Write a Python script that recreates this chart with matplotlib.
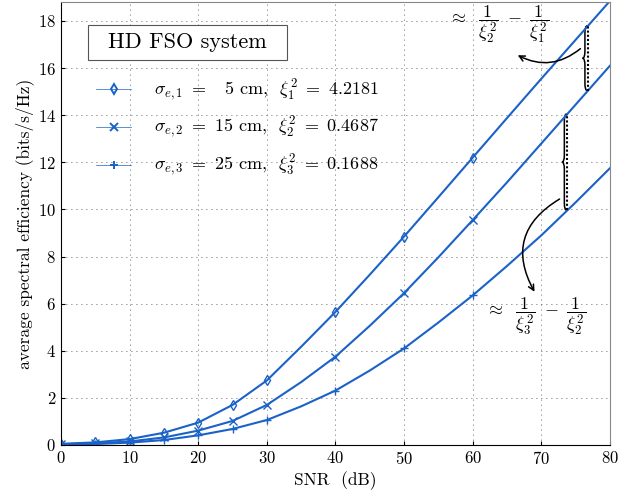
import numpy as np
import matplotlib
matplotlib.use('Agg')
import matplotlib.pyplot as plt
from matplotlib.path import Path
from matplotlib.patches import PathPatch, Rectangle

plt.rcParams['font.family'] = 'cmr10'
plt.rcParams['mathtext.fontset'] = 'cm'
plt.rcParams['axes.formatter.use_mathtext'] = True

# SNR grid (dB) and values
snr = [0, 5, 10, 15, 20, 25, 30, 35, 40, 45, 50, 55, 60, 65, 70, 75, 80]
marker_snr = [0, 5, 10, 15, 20, 25, 30, 40, 50, 60]
se_1 = [0.05, 0.11, 0.25, 0.52, 0.95, 1.70, 2.74, 4.17, 5.65, 7.23, 8.85, 10.52, 12.20, 13.88, 15.55, 17.20, 18.85]
se_2 = [0.03, 0.07, 0.15, 0.32, 0.61, 1.02, 1.70, 2.67, 3.75, 5.06, 6.45, 7.97, 9.55, 11.15, 12.80, 14.45, 16.10]
se_3 = [0.02, 0.04, 0.10, 0.21, 0.41, 0.68, 1.06, 1.64, 2.31, 3.16, 4.10, 5.20, 6.35, 7.60, 8.90, 10.30, 11.75]
labels = [r'$\sigma_{e,1}\ =\ \ \ 5$ cm,  $\xi_1^2\ =\ 4.2181$',
          r'$\sigma_{e,2}\ =\ 15$ cm,  $\xi_2^2\ =\ 0.4687$',
          r'$\sigma_{e,3}\ =\ 25$ cm,  $\xi_3^2\ =\ 0.1688$']
markers = ['d', 'x', '+']

color = '#1a62c8'
mark_idx = [i for i, s in enumerate(snr) if s in marker_snr]


def brace(ax, x0, yb, yt, h=0.35, r=0.3):
    ym = (yb + yt) / 2
    verts = [(x0, yb), (x0 - h, yb), (x0 - h, yb + r),
             (x0 - h, ym - r),
             (x0 - h, ym), (x0 - 2 * h, ym),
             (x0 - h, ym), (x0 - h, ym + r),
             (x0 - h, yt - r),
             (x0 - h, yt), (x0, yt)]
    codes = [Path.MOVETO, Path.CURVE3, Path.CURVE3, Path.LINETO,
             Path.CURVE3, Path.CURVE3, Path.CURVE3, Path.CURVE3,
             Path.LINETO, Path.CURVE3, Path.CURVE3]
    ax.add_patch(PathPatch(Path(verts, codes), fill=False, lw=1.1, color='k'))


fig = plt.figure(figsize=(6.26, 5.01), dpi=100)
ax = fig.add_axes([0.0974, 0.1118, 0.877, 0.884])

for y, m, lab in zip([se_1, se_2, se_3], markers, labels):
    ax.plot(snr, y, color=color, lw=1.5, marker=m, markevery=mark_idx,
            markersize=5.5, markerfacecolor='none', markeredgewidth=1.0, label=lab)

ax.set_xlim(0, 80)
ax.set_ylim(0, 18.8)
ax.set_xticks(range(0, 81, 10))
ax.set_yticks(range(0, 19, 2))
ax.grid(True, color='#333333', ls=(0, (1, 5)), lw=0.6)
ax.tick_params(direction='in', labelsize=12, length=3)
ax.set_xlabel('SNR  (dB)', fontsize=12.5, labelpad=3)
ax.set_ylabel('average spectral efficiency (bits/s/Hz)', fontsize=12.5, labelpad=3)
for s in ['top', 'right']:
    ax.spines[s].set_color('#888888')

ax.add_patch(Rectangle((0.049, 0.869), 0.363, 0.079, transform=ax.transAxes,
                       fc='white', ec='#555555', lw=0.8, zorder=3))
ax.text(0.2305, 0.9085, 'HD FSO system', fontsize=16, ha='center', va='center',
        transform=ax.transAxes, zorder=4)
leg = ax.legend(loc='upper left', bbox_to_anchor=(0.035, 0.866), frameon=False,
                fontsize=13, handlelength=1.9, labelspacing=0.65, handletextpad=1.3)
for l in leg.get_lines():
    l.set_linewidth(0.5)
    l.set_markeredgewidth(1.4)

# gap annotations
xa = 76.8
ya1, ya2 = np.interp(xa, snr, se_1), np.interp(xa, snr, se_2)
ax.plot([xa, xa], [ya2, ya1], color='k', ls=(0, (1, 1)), lw=1.5)
brace(ax, xa - 0.1, ya2, ya1)
xb = 73.8
yb2, yb3 = np.interp(xb, snr, se_2), np.interp(xb, snr, se_3)
ax.plot([xb, xb], [yb3, yb2], color='k', ls=(0, (1, 1)), lw=1.5)
brace(ax, xb - 0.1, yb3, yb2)

ax.annotate('', xy=(66.2, 16.6), xytext=(76.0, 16.9),
            arrowprops=dict(arrowstyle='->', color='k', lw=1.1,
                            connectionstyle='arc3,rad=-0.35'))
ax.annotate('', xy=(69.2, 6.4), xytext=(73.0, 10.5),
            arrowprops=dict(arrowstyle='->', color='k', lw=1.1,
                            connectionstyle='arc3,rad=0.5'))
ax.text(63.7, 17.85, r'$\approx\ \ \dfrac{1}{\xi_2^2}\ -\ \dfrac{1}{\xi_1^2}$',
        fontsize=13, ha='center', va='center')
ax.text(69.2, 5.45, r'$\approx\ \ \dfrac{1}{\xi_3^2}\ -\ \dfrac{1}{\xi_2^2}$',
        fontsize=13, ha='center', va='center')

fig.savefig('out.png', dpi=100)
